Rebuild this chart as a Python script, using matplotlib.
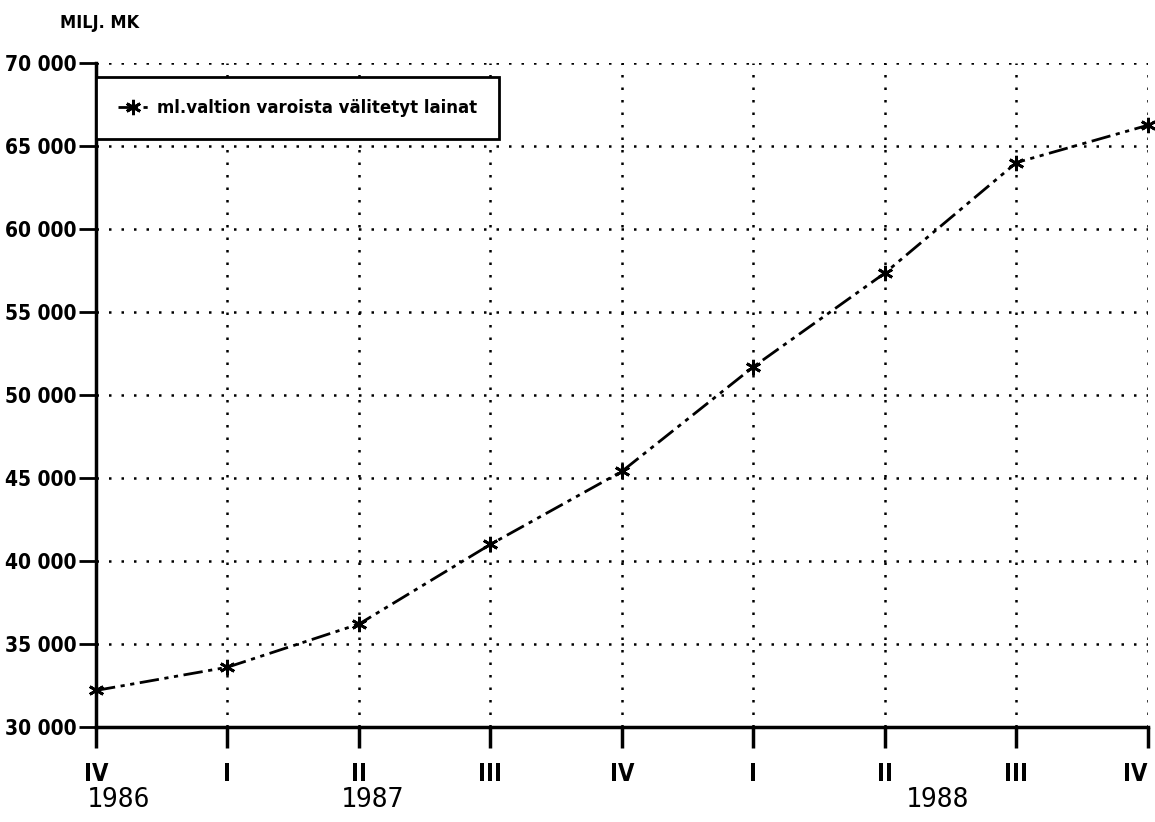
import matplotlib.pyplot as plt
from matplotlib.transforms import blended_transform_factory

quarters = ['IV', 'I', 'II', 'III', 'IV', 'I', 'II', 'III', 'IV']
values = [32200, 33600, 36200, 41000, 45400, 51700, 57350, 64000, 66250]
yticks = [30000, 35000, 40000, 45000, 50000, 55000, 60000, 65000, 70000]
ytick_labels = ['30 000', '35 000', '40 000', '45 000', '50 000',
                '55 000', '60 000', '65 000', '70 000']
years = ['1986', '1987', '1988']
year_pos = [0.17, 2.1, 6.4]
series_label = 'ml.valtion varoista välitetyt lainat'

fig = plt.figure(figsize=(11.55, 8.22), dpi=100)
ax = fig.add_axes([0.0831, 0.1156, 0.9108, 0.8078])

x = list(range(len(values)))
ax.plot(x, values, color='black', linewidth=2,
        dashes=(7, 2, 1.5, 2, 1.5, 2),
        marker=(6, 2, 0), markersize=11, markeredgewidth=2,
        label=series_label, clip_on=False)

ax.set_xlim(0, len(values) - 1)
ax.set_ylim(30000, 70000)
ax.set_yticks(yticks)
ax.set_yticklabels(ytick_labels)
ax.set_xticks(x)
ax.set_xticklabels(quarters)

ax.grid(True, color='black', linestyle=(0, (1, 4)), linewidth=1.8)
ax.spines['top'].set_visible(False)
ax.spines['right'].set_visible(False)
ax.spines['left'].set_linewidth(2.5)
ax.spines['bottom'].set_linewidth(2.5)

ax.tick_params(axis='y', length=12, width=2, pad=2)
ax.tick_params(axis='x', length=15, width=2.5, pad=10)
for lab in ax.get_yticklabels() + ax.get_xticklabels():
    lab.set_fontfamily('DejaVu Sans')
    lab.set_fontstretch('condensed')
    lab.set_fontweight('bold')
    lab.set_fontsize(15)
for lab in ax.get_xticklabels():
    lab.set_fontsize(17)
ax.get_xticklabels()[-1].set_ha('right')

trans = blended_transform_factory(ax.transData, fig.transFigure)
for yr, pos in zip(years, year_pos):
    fig.text(pos, 0.027, yr, transform=trans, ha='center', va='center',
             fontsize=19, family='DejaVu Sans Mono')

fig.text(0.052, 0.972, 'MILJ. MK', ha='left', va='center', fontsize=13,
         fontweight='bold', fontstretch='condensed', family='DejaVu Sans')

leg = ax.legend(loc='upper left', bbox_to_anchor=(0.0, 0.979), borderaxespad=0,
                fancybox=False, frameon=True, handlelength=1.6, handletextpad=0.5,
                borderpad=1.2,
                prop={'family': 'DejaVu Sans', 'stretch': 'condensed',
                      'weight': 'bold', 'size': 13.3})
leg.get_frame().set_edgecolor('black')
leg.get_frame().set_linewidth(2)
leg.get_frame().set_alpha(1)

fig.savefig('out.png', dpi=100)
